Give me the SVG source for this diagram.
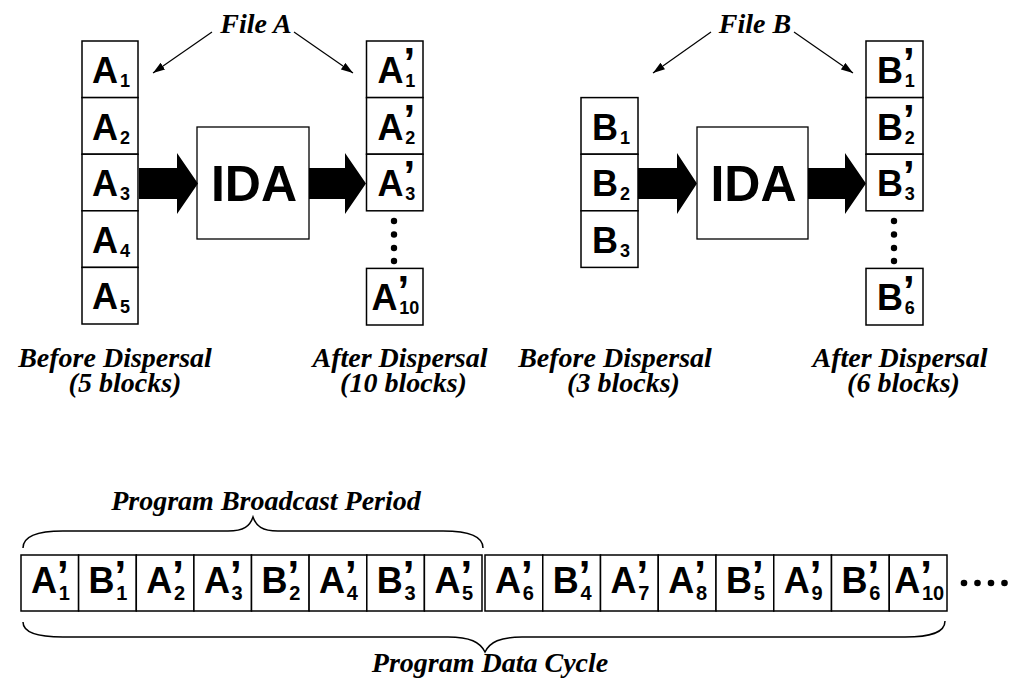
<svg xmlns="http://www.w3.org/2000/svg" width="1012" height="679" viewBox="0 0 1012 679">
  <style>
    .box { fill: #fff; stroke: #000; stroke-width: 1.5; }
    .ida { fill: #fff; stroke: #000; stroke-width: 1.3; }
    .lbl { font-family: "Liberation Sans", Arial, sans-serif; font-weight: bold; font-size: 36px; fill: #000; }
    .sub { font-size: 18px; }
    .sub2 { font-size: 20px; }
    .pr { font-size: 42px; }
    .big { font-family: "Liberation Sans", Arial, sans-serif; font-weight: bold; font-size: 50px; fill: #000; text-anchor: middle; }
    .cap { font-family: "Liberation Serif", "Times New Roman", serif; font-weight: bold; font-style: italic; font-size: 28px; fill: #000; text-anchor: middle; }
    .thin { fill: none; stroke: #000; stroke-width: 1.2; marker-end: url(#head); }
    .fat { fill: #000; stroke: none; }
    .brace { fill: none; stroke: #000; stroke-width: 1.5; }
    .dot { fill: #000; }
  </style>
  <defs>
    <marker id="head" markerUnits="userSpaceOnUse" markerWidth="13" markerHeight="9" refX="12" refY="4" orient="auto">
      <path d="M0,0 L12,4 L0,8 Z" fill="#000"/>
    </marker>
  </defs>

  <!-- File A: blocks before dispersal -->
  <g id="fileA-before">
    <rect class="box" x="82" y="41" width="56" height="56.6"/>
    <text class="lbl" x="92" y="83">A<tspan class="sub" dx="2" dy="4">1</tspan></text>
    <rect class="box" x="82" y="97.6" width="56" height="56.6"/>
    <text class="lbl" x="92" y="139.6">A<tspan class="sub" dx="2" dy="4">2</tspan></text>
    <rect class="box" x="82" y="154.2" width="56" height="56.6"/>
    <text class="lbl" x="92" y="196.2">A<tspan class="sub" dx="2" dy="4">3</tspan></text>
    <rect class="box" x="82" y="210.8" width="56" height="56.6"/>
    <text class="lbl" x="92" y="252.8">A<tspan class="sub" dx="2" dy="4">4</tspan></text>
    <rect class="box" x="82" y="267.4" width="56" height="56.6"/>
    <text class="lbl" x="92" y="309.4">A<tspan class="sub" dx="2" dy="4">5</tspan></text>
  </g>

  <g id="idaA">
    <rect class="ida" x="197" y="127" width="112" height="112"/>
    <text class="big" x="254" y="201">IDA</text>
  </g>

  <!-- File A: blocks after dispersal -->
  <g id="fileA-after">
    <rect class="box" x="366.5" y="41" width="56.5" height="56.6"/>
    <text class="lbl" x="377.5" y="83">A<tspan class="pr" dy="-5.8">’</tspan><tspan class="sub" dx="-10" dy="9.8">1</tspan></text>
    <rect class="box" x="366.5" y="97.6" width="56.5" height="56.6"/>
    <text class="lbl" x="377.5" y="139.6">A<tspan class="pr" dy="-5.8">’</tspan><tspan class="sub" dx="-10" dy="9.8">2</tspan></text>
    <rect class="box" x="366.5" y="154.2" width="56.5" height="56.6"/>
    <text class="lbl" x="377.5" y="196.2">A<tspan class="pr" dy="-5.8">’</tspan><tspan class="sub" dx="-10" dy="9.8">3</tspan></text>
    <circle class="dot" cx="394" cy="221" r="3.2"/>
    <circle class="dot" cx="394" cy="234.5" r="3.2"/>
    <circle class="dot" cx="394" cy="248" r="3.2"/>
    <circle class="dot" cx="394" cy="261" r="3.2"/>
    <rect class="box" x="366.5" y="268.4" width="56.5" height="56.6"/>
    <text class="lbl" x="371.5" y="310.4">A<tspan class="pr" dy="-5.8">’</tspan><tspan class="sub" dx="-10" dy="9.8">10</tspan></text>
  </g>

  <!-- File B: blocks before dispersal -->
  <g id="fileB-before">
    <rect class="box" x="581" y="97.6" width="57" height="56.6"/>
    <text class="lbl" x="592" y="139.6">B<tspan class="sub" dx="2" dy="4">1</tspan></text>
    <rect class="box" x="581" y="154.2" width="57" height="56.6"/>
    <text class="lbl" x="592" y="196.2">B<tspan class="sub" dx="2" dy="4">2</tspan></text>
    <rect class="box" x="581" y="210.8" width="57" height="56.6"/>
    <text class="lbl" x="592" y="252.8">B<tspan class="sub" dx="2" dy="4">3</tspan></text>
  </g>

  <g id="idaB">
    <rect class="ida" x="697" y="127" width="111" height="112"/>
    <text class="big" x="753.5" y="201">IDA</text>
  </g>

  <!-- File B: blocks after dispersal -->
  <g id="fileB-after">
    <rect class="box" x="866" y="41" width="57" height="56.6"/>
    <text class="lbl" x="877" y="83">B<tspan class="pr" dy="-5.8">’</tspan><tspan class="sub" dx="-10" dy="9.8">1</tspan></text>
    <rect class="box" x="866" y="97.6" width="57" height="56.6"/>
    <text class="lbl" x="877" y="139.6">B<tspan class="pr" dy="-5.8">’</tspan><tspan class="sub" dx="-10" dy="9.8">2</tspan></text>
    <rect class="box" x="866" y="154.2" width="57" height="56.6"/>
    <text class="lbl" x="877" y="196.2">B<tspan class="pr" dy="-5.8">’</tspan><tspan class="sub" dx="-10" dy="9.8">3</tspan></text>
    <circle class="dot" cx="894" cy="221" r="3.2"/>
    <circle class="dot" cx="894" cy="234.5" r="3.2"/>
    <circle class="dot" cx="894" cy="248" r="3.2"/>
    <circle class="dot" cx="894" cy="261" r="3.2"/>
    <rect class="box" x="866" y="268.4" width="57" height="56.6"/>
    <text class="lbl" x="877" y="310.4">B<tspan class="pr" dy="-5.8">’</tspan><tspan class="sub" dx="-10" dy="9.8">6</tspan></text>
  </g>

  <!-- captions -->
  <g id="captions">
    <text class="cap" x="256" y="33">File A</text>
    <text class="cap" x="755" y="33">File B</text>
    <text class="cap" x="115" y="367">Before Dispersal</text>
    <text class="cap" x="125" y="392">(5 blocks)</text>
    <text class="cap" x="400" y="367">After Dispersal</text>
    <text class="cap" x="403.5" y="392">(10 blocks)</text>
    <text class="cap" x="615" y="367">Before Dispersal</text>
    <text class="cap" x="623.5" y="392">(3 blocks)</text>
    <text class="cap" x="900" y="367">After Dispersal</text>
    <text class="cap" x="903.5" y="392">(6 blocks)</text>
    <text class="cap" x="266" y="510">Program Broadcast Period</text>
    <text class="cap" x="490" y="672">Program Data Cycle</text>
  </g>

  <!-- broadcast sequence: one program broadcast period -->
  <g id="broadcast-period">
    <rect class="box" x="21" y="555" width="57.6" height="56"/>
    <text class="lbl" x="31" y="593">A<tspan class="pr" dy="-2.8">’</tspan><tspan class="sub2" dx="-10" dy="9.8">1</tspan></text>
    <rect class="box" x="78.6" y="555" width="57.7" height="56"/>
    <text class="lbl" x="88.6" y="593">B<tspan class="pr" dy="-2.8">’</tspan><tspan class="sub2" dx="-10" dy="9.8">1</tspan></text>
    <rect class="box" x="136.3" y="555" width="57.6" height="56"/>
    <text class="lbl" x="146.3" y="593">A<tspan class="pr" dy="-2.8">’</tspan><tspan class="sub2" dx="-10" dy="9.8">2</tspan></text>
    <rect class="box" x="193.9" y="555" width="57.6" height="56"/>
    <text class="lbl" x="203.9" y="593">A<tspan class="pr" dy="-2.8">’</tspan><tspan class="sub2" dx="-10" dy="9.8">3</tspan></text>
    <rect class="box" x="251.5" y="555" width="57.6" height="56"/>
    <text class="lbl" x="261.5" y="593">B<tspan class="pr" dy="-2.8">’</tspan><tspan class="sub2" dx="-10" dy="9.8">2</tspan></text>
    <rect class="box" x="309.1" y="555" width="57.7" height="56"/>
    <text class="lbl" x="319.1" y="593">A<tspan class="pr" dy="-2.8">’</tspan><tspan class="sub2" dx="-10" dy="9.8">4</tspan></text>
    <rect class="box" x="366.8" y="555" width="57.6" height="56"/>
    <text class="lbl" x="376.8" y="593">B<tspan class="pr" dy="-2.8">’</tspan><tspan class="sub2" dx="-10" dy="9.8">3</tspan></text>
    <rect class="box" x="424.4" y="555" width="57.6" height="56"/>
    <text class="lbl" x="434.4" y="593">A<tspan class="pr" dy="-2.8">’</tspan><tspan class="sub2" dx="-10" dy="9.8">5</tspan></text>
  </g>
  <!-- remainder of the program data cycle -->
  <g id="data-cycle-rest">
    <rect class="box" x="485" y="555" width="57.75" height="56"/>
    <text class="lbl" x="495" y="593">A<tspan class="pr" dy="-2.8">’</tspan><tspan class="sub2" dx="-10" dy="9.8">6</tspan></text>
    <rect class="box" x="542.75" y="555" width="57.75" height="56"/>
    <text class="lbl" x="552.75" y="593">B<tspan class="pr" dy="-2.8">’</tspan><tspan class="sub2" dx="-10" dy="9.8">4</tspan></text>
    <rect class="box" x="600.5" y="555" width="57.75" height="56"/>
    <text class="lbl" x="610.5" y="593">A<tspan class="pr" dy="-2.8">’</tspan><tspan class="sub2" dx="-10" dy="9.8">7</tspan></text>
    <rect class="box" x="658.25" y="555" width="57.75" height="56"/>
    <text class="lbl" x="668.25" y="593">A<tspan class="pr" dy="-2.8">’</tspan><tspan class="sub2" dx="-10" dy="9.8">8</tspan></text>
    <rect class="box" x="716" y="555" width="57.75" height="56"/>
    <text class="lbl" x="726" y="593">B<tspan class="pr" dy="-2.8">’</tspan><tspan class="sub2" dx="-10" dy="9.8">5</tspan></text>
    <rect class="box" x="773.75" y="555" width="57.75" height="56"/>
    <text class="lbl" x="783.75" y="593">A<tspan class="pr" dy="-2.8">’</tspan><tspan class="sub2" dx="-10" dy="9.8">9</tspan></text>
    <rect class="box" x="831.5" y="555" width="57.75" height="56"/>
    <text class="lbl" x="841.5" y="593">B<tspan class="pr" dy="-2.8">’</tspan><tspan class="sub2" dx="-10" dy="9.8">6</tspan></text>
    <rect class="box" x="889.25" y="555" width="57.75" height="56"/>
    <text class="lbl" x="894.25" y="593">A<tspan class="pr" dy="-2.8">’</tspan><tspan class="sub2" dx="-10" dy="9.8">10</tspan></text>
    <circle class="dot" cx="964" cy="583" r="3.3"/>
    <circle class="dot" cx="977.5" cy="583" r="3.3"/>
    <circle class="dot" cx="991" cy="583" r="3.3"/>
    <circle class="dot" cx="1004.5" cy="583" r="3.3"/>
  </g>

  <!-- connectors -->
  <g id="connectors">
    <line class="thin" x1="212" y1="32" x2="153" y2="73"/>
    <line class="thin" x1="294" y1="32" x2="353" y2="73"/>
    <line class="thin" x1="711" y1="32" x2="653" y2="73"/>
    <line class="thin" x1="794" y1="32" x2="853" y2="73"/>
    <polygon class="fat" points="139,168 177,168 177,153 198,183.5 177,214 177,199 139,199"/>
    <polygon class="fat" points="309,168 345,168 345,153 366,183.5 345,214 345,199 309,199"/>
    <polygon class="fat" points="638,168 677,168 677,153 697,183.5 677,214 677,199 638,199"/>
    <polygon class="fat" points="808,168 845,168 845,153 866,183.5 845,214 845,199 808,199"/>
    <path class="brace" d="M23,548 C23,536 38,531 63,531 L228,531 C244,531 250,526 253,517 C256,526 262,531 278,531 L443,531 C468,531 483,536 483,548"/>
    <path class="brace" d="M23,622 C23,633 38,637 63,637 L448,637 C470,637 480,642 485,652 C490,642 500,637 522,637 L905,637 C930,637 945,633 945,621"/>
  </g>
</svg>
